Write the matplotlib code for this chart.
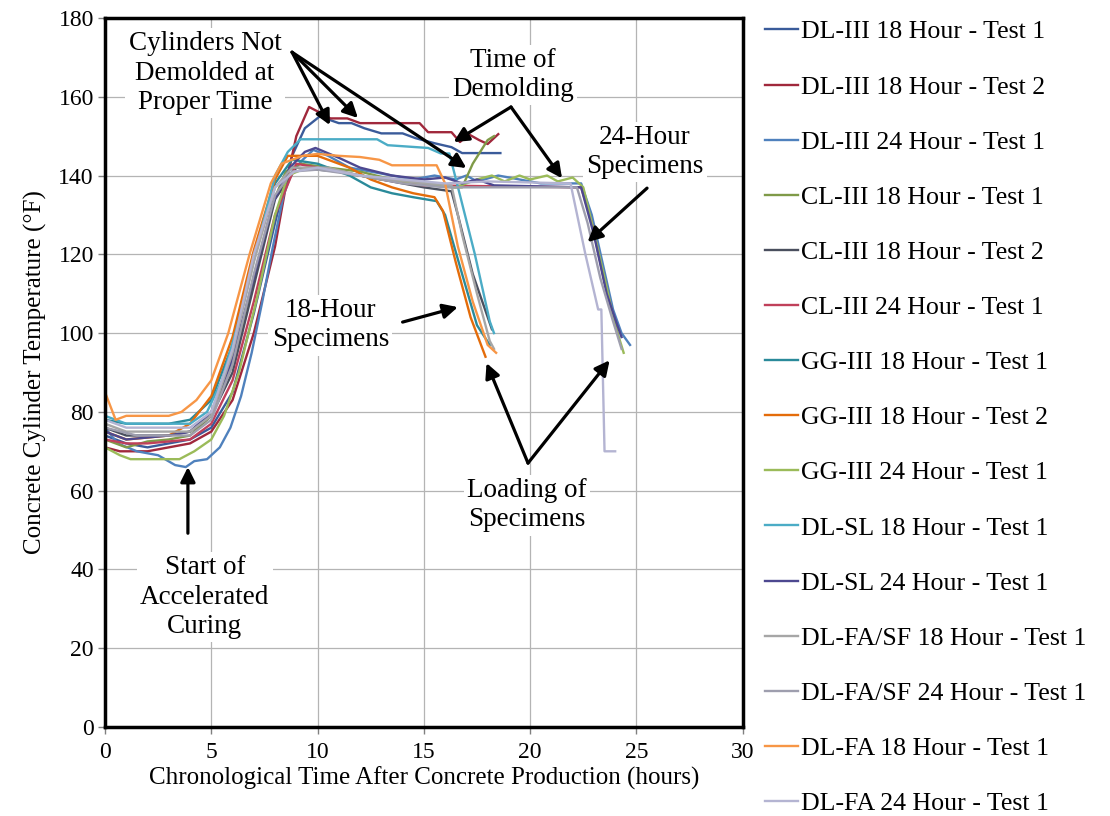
import matplotlib.pyplot as plt

plt.rcParams['font.family'] = ['Liberation Serif', 'DejaVu Serif']

labels = ["DL-III 18 Hour - Test 1", "DL-III 18 Hour - Test 2", "DL-III 24 Hour - Test 1",
          "CL-III 18 Hour - Test 1", "CL-III 18 Hour - Test 2", "CL-III 24 Hour - Test 1",
          "GG-III 18 Hour - Test 1", "GG-III 18 Hour - Test 2", "GG-III 24 Hour - Test 1",
          "DL-SL 18 Hour - Test 1", "DL-SL 24 Hour - Test 1", "DL-FA/SF 18 Hour - Test 1",
          "DL-FA/SF 24 Hour - Test 1", "DL-FA 18 Hour - Test 1", "DL-FA 24 Hour - Test 1"]

colors = ["#3A5B9A", "#A0283C", "#4F81BD", "#7F9A48", "#4A4F5E", "#C0405A",
          "#2A8A9A", "#E46C0A", "#9BBB59", "#4BACC6", "#4D4890", "#A6A6A6",
          "#9E9EAE", "#F79646", "#B4B4D2"]

# time (hours) / temperature (F)
dl3_18a_t = [0, 1, 2, 3, 4, 5, 6, 7, 8, 8.8, 9.4, 10.1, 11, 11.6, 12.2, 13, 14, 14.6, 15.5, 16.3, 16.8, 18.6]
dl3_18a_y = [74, 72, 71, 72, 73, 76, 85, 105, 128, 145, 152, 155, 153.3, 153.3, 152, 150.7, 150.7, 149.5, 148.2, 147.2, 145.7, 145.7]

dl3_18b_t = [0, 0.7, 2, 3, 4, 5, 6, 7, 8, 8.6, 9.0, 9.6, 10.1, 10.6, 11.4, 12, 14.8, 15.2, 16.3, 16.7, 17.1, 17.6, 18, 18.5]
dl3_18b_y = [71, 70, 70, 71, 72, 75, 83, 100, 122, 140, 150, 157.4, 156, 154.5, 154.5, 153.3, 153.3, 151, 151, 148.5, 150.5, 149, 148, 150.5]

dl3_24_t = [0, 0.6, 1.5, 2.5, 3.3, 3.8, 4.2, 4.8, 5.4, 5.9, 6.4, 6.9, 7.4, 7.9, 8.4, 8.8, 9.3, 9.8, 10.5, 11.5,
            12.5, 13.5, 14.5, 15.5, 16.5, 17, 17.5, 18.5, 19.5, 20.5, 22.4, 22.9, 23.4, 23.9, 24.3, 24.7]
dl3_24_y = [76, 72, 70, 69, 66.5, 66, 67.5, 68, 71, 76, 84, 95, 108, 122, 135, 141, 144, 146.5, 145, 142,
            141, 140, 139, 140, 139, 140, 138.5, 140, 139, 138, 138, 130, 118, 106, 100, 97]

cl3_18a_t = [0, 1, 2, 3, 4, 5, 6, 7, 7.9, 8.5, 9.2, 10.5, 12, 13.5, 15, 16.3, 16.8, 17.3, 18.0, 18.3]
cl3_18a_y = [73, 71, 72.5, 73, 74, 79, 92, 113, 133, 141, 143, 142, 141, 139, 138, 137, 137, 143, 149, 150]

cl3_18b_t = [0, 1, 2, 3, 4, 5, 6, 7, 8, 9, 11, 13, 15, 16.3, 16.6, 17.3, 18.2]
cl3_18b_y = [76, 74, 74, 74, 75, 79, 90, 112, 134, 142, 141, 139, 137, 136, 130, 115, 101]

cl3_24_t = [0, 1, 2, 3, 4, 5, 6, 7, 8, 9, 11, 13, 15, 22.4, 22.9, 23.5, 24.1]
cl3_24_y = [73, 72, 72, 72.5, 73, 77, 88, 108, 130, 143, 141, 139, 137.5, 137, 128, 113, 100]

gg3_18a_t = [0, 1, 2, 3, 4, 5, 6, 7, 8, 8.8, 10, 11.5, 12.5, 13.5, 14.5, 15.6, 16.0, 16.8, 17.5, 18.1]
gg3_18a_y = [78, 77, 77, 77, 78, 83, 97, 120, 138, 144, 143, 140, 137, 135.5, 134.5, 133.5, 130, 115, 102, 97]

gg3_18b_t = [0, 1, 2, 3, 4, 5, 6, 7, 8, 8.6, 10, 11.5, 12.5, 13.5, 14.5, 15.5, 15.9, 16.5, 17.2, 17.9]
gg3_18b_y = [75, 73, 73.5, 74, 77, 84, 99, 121, 139, 145, 145, 142, 139, 137, 135.5, 134.5, 131, 118, 104, 94]

gg3_24_t = [0, 0.7, 1.2, 3.5, 4.2, 5, 5.6, 6.3, 7.2, 8, 8.6, 9.5, 11, 13, 15, 16.5, 17.5, 18.2, 18.8, 19.5,
            20, 20.8, 21.3, 22, 22.5, 22.9, 23.5, 24, 24.4]
gg3_24_y = [71, 69, 68, 68, 70, 73, 79, 90, 110, 130, 140, 142, 141, 139, 138, 137, 139, 140, 138.5, 140,
            139, 140, 138.5, 139.5, 137, 128, 114, 102, 95]

dlsl_18_t = [0, 1, 4, 4.8, 5.5, 6.4, 7.3, 8.0, 8.6, 9.2, 12.8, 13.3, 15.2, 15.8, 16.2, 16.7, 17.4, 18.1, 18.3]
dlsl_18_y = [79, 77, 77, 80, 88, 105, 125, 140, 146, 149.2, 149.2, 147.7, 147, 145.6, 145.6, 135, 120, 103, 100]

dlsl_24_t = [0, 1, 3, 4, 5, 5.9, 6.9, 7.9, 8.7, 9.4, 9.9, 11, 12, 13.5, 15, 16, 16.8, 17.5, 18.3, 22.4, 23, 23.6, 24.1, 24.3]
dlsl_24_y = [75, 73, 74, 75, 80, 92, 112, 133, 142, 146, 147, 144.5, 142, 140, 139, 139.5, 138, 139, 137.5, 137, 125, 110, 102, 99]

fasf_18_t = [0, 1, 4, 5, 6, 7, 8, 8.8, 10.5, 12, 13.5, 15, 16.3, 16.8, 17.5, 18.1, 18.3]
fasf_18_y = [77, 75, 75, 79, 95, 118, 137, 142, 142, 140, 139, 138, 137.5, 125, 110, 98, 96]

fasf_24_t = [0, 1.5, 4, 5, 6, 7, 8, 8.8, 10, 12, 14, 16, 22.2, 22.7, 23.3, 23.9, 24.3]
fasf_24_y = [76, 74, 74, 78, 92, 115, 135, 141, 141.5, 140, 138, 137, 137, 128, 114, 103, 96]

fa_18_t = [0, 0.5, 1, 3, 3.6, 4.3, 5.0, 5.8, 6.8, 7.8, 8.3, 9.3, 10.0, 11, 12, 12.9, 13.5, 15.6, 16.0, 16.6, 17.3, 18.0, 18.4]
fa_18_y = [85, 78, 79, 79, 80, 83, 88, 100, 120, 138, 143, 145, 145.5, 145, 144.7, 144, 142.6, 142.6, 138, 122, 108, 97, 95]

fa_24_t = [0, 1, 4, 5, 6, 7, 8, 8.9, 10, 12, 14, 16, 18, 21.9, 22.6, 23.2, 23.35, 23.5, 24.0]
fa_24_y = [78, 76, 76, 80, 96, 120, 137, 141, 142, 140, 139, 138, 138.5, 138, 120, 106, 106, 70, 70]

series = [(dl3_18a_t, dl3_18a_y), (dl3_18b_t, dl3_18b_y), (dl3_24_t, dl3_24_y),
          (cl3_18a_t, cl3_18a_y), (cl3_18b_t, cl3_18b_y), (cl3_24_t, cl3_24_y),
          (gg3_18a_t, gg3_18a_y), (gg3_18b_t, gg3_18b_y), (gg3_24_t, gg3_24_y),
          (dlsl_18_t, dlsl_18_y), (dlsl_24_t, dlsl_24_y), (fasf_18_t, fasf_18_y),
          (fasf_24_t, fasf_24_y), (fa_18_t, fa_18_y), (fa_24_t, fa_24_y)]

fig = plt.figure(figsize=(11.1, 8.16), dpi=100)
ax = fig.add_axes([0.0946, 0.109, 0.5745, 0.869])

for (t, y), lab, c in zip(series, labels, colors):
    ax.plot(t, y, color=c, lw=1.7, label=lab)

ax.set_xlim(0, 30)
ax.set_ylim(0, 180)
ax.set_xticks(range(0, 31, 5))
ax.set_yticks(range(0, 181, 20))
ax.grid(True, color='#B4B4B4', lw=0.9)
ax.set_axisbelow(True)
for s in ax.spines.values():
    s.set_linewidth(2.5)
ax.tick_params(labelsize=17, length=5, width=1, color='#808080', pad=3)
ax.tick_params(axis='x', pad=6)
ax.set_xlabel("Chronological Time After Concrete Production (hours)", fontsize=18, labelpad=2)
ax.set_ylabel("Concrete Cylinder Temperature (°F)", fontsize=18, labelpad=8)

txt = dict(fontsize=19.5, ha='center', va='center', linespacing=1.22,
           bbox=dict(boxstyle='square,pad=0.12', fc='white', ec='none'))
arr = dict(arrowstyle='-|>', lw=2.3, color='black', mutation_scale=22, shrinkA=0, shrinkB=0)

ax.text(4.7, 166, "Cylinders Not\nDemolded at\nProper Time", **txt)
for head in [(10.58, 152.8), (11.9, 154.6), (17.0, 141.9)]:
    ax.annotate("", xy=head, xytext=(8.8, 171.3), arrowprops=arr)

ax.text(19.2, 165.5, "Time of\nDemolding", **txt)
for head in [(16.4, 148.5), (21.5, 139.3)]:
    ax.annotate("", xy=head, xytext=(19.1, 157.4), arrowprops=arr)

ax.text(25.4, 146, "24-Hour\nSpecimens", **txt)
ax.annotate("", xy=(22.7, 123.1), xytext=(25.5, 136.8), arrowprops=arr)

ax.text(10.6, 102, "18-Hour\nSpecimens", **txt)
ax.annotate("", xy=(16.6, 106.6), xytext=(14.0, 102.8), arrowprops=arr)

ax.text(19.84, 56.3, "Loading of\nSpecimens", **txt)
for head in [(17.95, 92.4), (23.74, 93.1)]:
    ax.annotate("", xy=head, xytext=(19.9, 67.0), arrowprops=arr)

ax.text(4.7, 33, "Start of\nAccelerated\nCuring", **txt)
ax.annotate("", xy=(3.9, 66), xytext=(3.9, 49.2), arrowprops=arr)

fig.legend(loc='upper left', bbox_to_anchor=(0.689, 0.975), frameon=False, fontsize=18.6,
           handlelength=1.3, handletextpad=0.1, labelspacing=1.24, borderaxespad=0, borderpad=0)

fig.savefig("out.png", dpi=100)
